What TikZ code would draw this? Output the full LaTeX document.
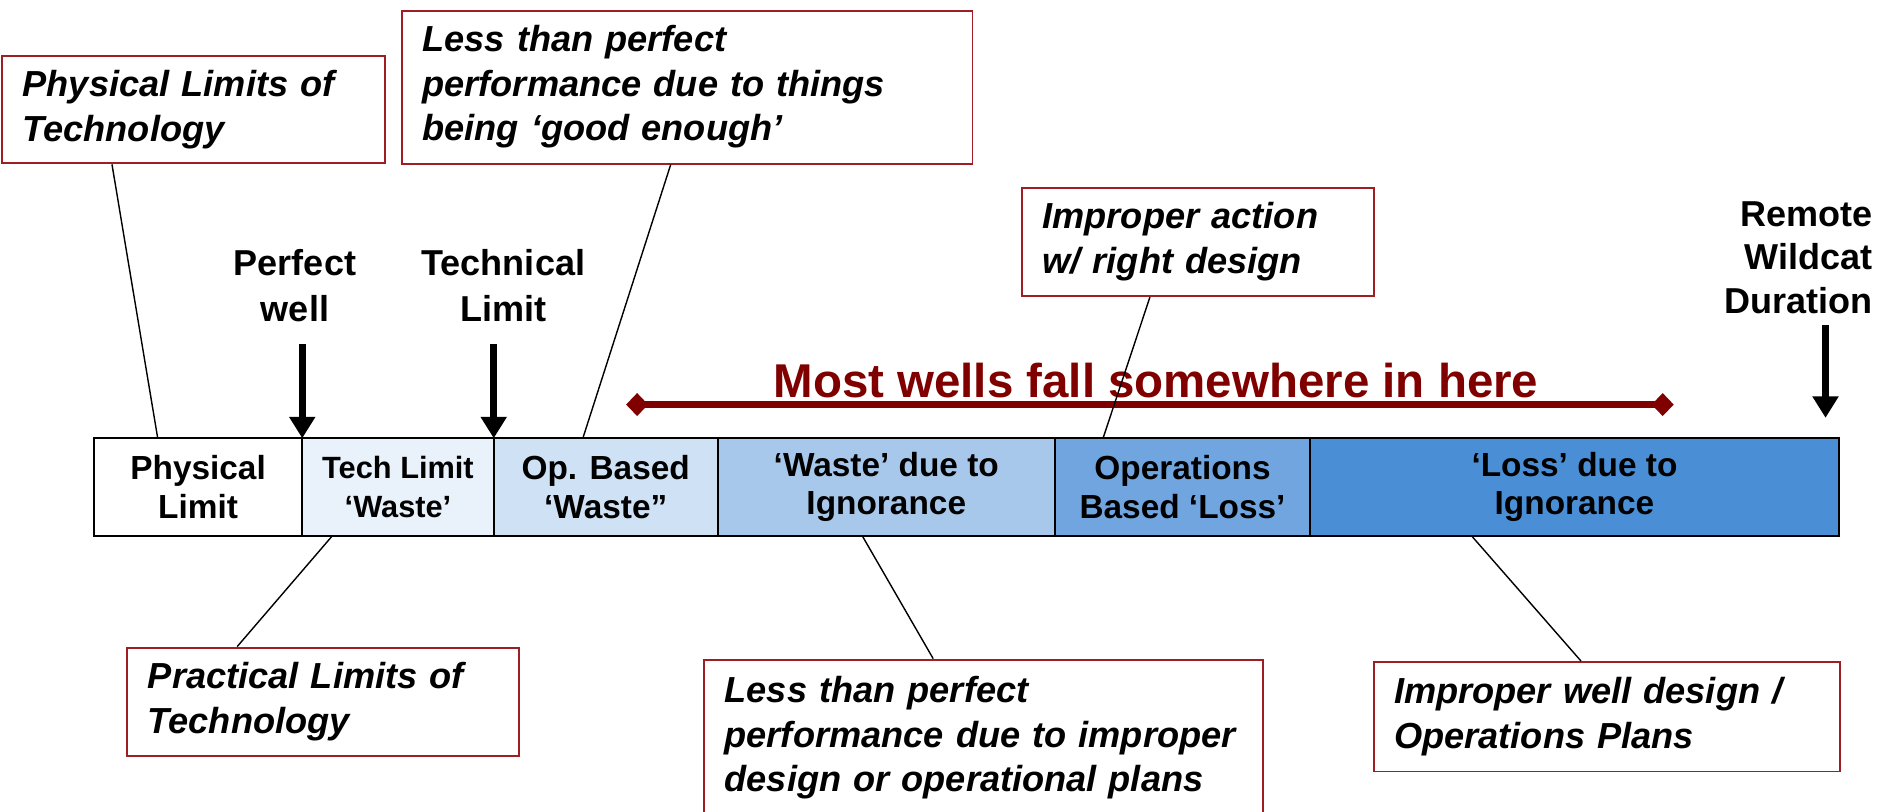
\documentclass[tikz,border=0pt]{standalone}
\usepackage{fontspec}
\setmainfont{Liberation Sans}
\usetikzlibrary{positioning,arrows.meta}
\definecolor{boxred}{RGB}{158,30,36}
\definecolor{titlered}{RGB}{128,0,0}
\definecolor{segb}{RGB}{233,241,250}
\definecolor{segc}{RGB}{207,225,244}
\definecolor{segd}{RGB}{167,200,234}
\definecolor{sege}{RGB}{113,165,224}
\definecolor{segf}{RGB}{74,143,213}
\newcommand{\notefont}{\fontsize{20.6}{25.3}\selectfont\bfseries\itshape\hyphenpenalty=10000}
\newcommand{\segfont}{\fontsize{19}{22}\selectfont\bfseries}
\tikzset{
  note/.style={draw=boxred, line width=1.1pt, anchor=north west, align=left, inner xsep=0.41cm, inner ysep=0pt, font=\notefont},
  seg/.style={draw, line width=1pt, minimum height=1.95cm, inner sep=0pt, outer sep=0pt, align=center, font=\segfont},
  pin line/.style={line width=0.8pt},
  mark arrow/.style={line width=3.8pt, -{Triangle[width=0.5cm,length=0.43cm]}},
  marktext/.style={align=center, font=\fontsize{20.5}{26}\selectfont\bfseries}
}

\begin{document}
\begin{tikzpicture}[x=0.02408cm, y=-0.02408cm]
\useasboundingbox (0,0) rectangle (1568,674);
% the bar
\node[seg, anchor=north west, minimum width=4.166cm] (seg1) at (78,364) {Physical\\Limit};
\node[seg, right=0pt of seg1, minimum width=3.829cm, fill=segb, font=\fontsize{17.5}{22}\selectfont\bfseries] (seg2) {Tech Limit\\‘Waste’};
\node[seg, right=0pt of seg2, minimum width=4.479cm, fill=segc] (seg3) {Op. Based\\‘Waste”};
\node[seg, right=0pt of seg3, minimum width=6.742cm, fill=segd] (seg4) {‘Waste’ due to\\Ignorance};
\node[seg, right=0pt of seg4, minimum width=5.105cm, fill=sege] (seg5) {Operations\\Based ‘Loss’};
\node[seg, right=0pt of seg5, minimum width=10.571cm, fill=segf] (seg6) {‘Loss’ due to\\Ignorance};
% notes
\node[note, text width=6.84cm, minimum height=2.14cm] (physlim) at (1,46) {Physical Limits of\\Technology};
\node[note, text width=10.59cm, minimum height=3.06cm] (goodenough) at (333,8) {Less than perfect\\performance due to things\\being ‘good enough’};
\node[note, text width=6.21cm, minimum height=2.17cm] (action) at (848,155) {Improper action\\w/ right design};
\node[note, text width=7.01cm, minimum height=2.17cm] (practlim) at (105,537) {Practical Limits of\\Technology};
\node[note, text width=10.35cm, minimum height=3.13cm] (improper) at (584,547) {Less than perfect\\performance due to improper\\design or operational plans};
\node[note, text width=8.50cm, minimum height=2.19cm] (welldesign) at (1140,549) {Improper well design /\\Operations Plans};
% span
\node[font=\fontsize{27}{32}\selectfont\bfseries, text=titlered, anchor=base] (most) at (960,330) {Most wells fall somewhere in here};
\coordinate (spanl) at (520,336);
\coordinate (spanr) at (1390,336);
\draw[titlered, line width=4pt, {Diamond[width=0.46cm,length=0.44cm]}-{Diamond[width=0.46cm,length=0.44cm]}] (spanl) -- (spanr);
% pins
\draw[pin line] ([xshift=2.215cm]physlim.south west) -- ([xshift=1.276cm]seg1.north west);
\draw[pin line] ([xshift=5.394cm]goodenough.south west) -- ([xshift=1.782cm]seg3.north west);
\draw[pin line] ([xshift=2.577cm]action.south west) -- ([xshift=0.963cm]seg5.north west);
\draw[pin line] ([xshift=0.602cm]seg2.south west) -- ([xshift=2.215cm]practlim.north west);
\draw[pin line] ([xshift=2.89cm]seg4.south west) -- ([xshift=4.599cm]improper.north west);
\draw[pin line] ([xshift=3.227cm]seg6.south west) -- ([xshift=4.166cm]welldesign.north west);
% markers
\node[marktext] (perfect) at (245,237) {Perfect\\well};
\node[marktext] (techlim) at (418,237) {Technical\\Limit};
\node[marktext, align=right, anchor=east, font=\fontsize{20.5}{24.6}\selectfont\bfseries] (remote) at (1560,214) {Remote\\Wildcat\\Duration};
\draw[mark arrow] ([yshift=1.88cm]seg1.north east) -- (seg1.north east);
\draw[mark arrow] ([yshift=1.88cm]seg2.north east) -- (seg2.north east);
\draw[mark arrow] ([xshift=-0.265cm,yshift=2.263cm]seg6.north east) -- ([xshift=-0.265cm,yshift=0.409cm]seg6.north east);
\end{tikzpicture}
\end{document}
